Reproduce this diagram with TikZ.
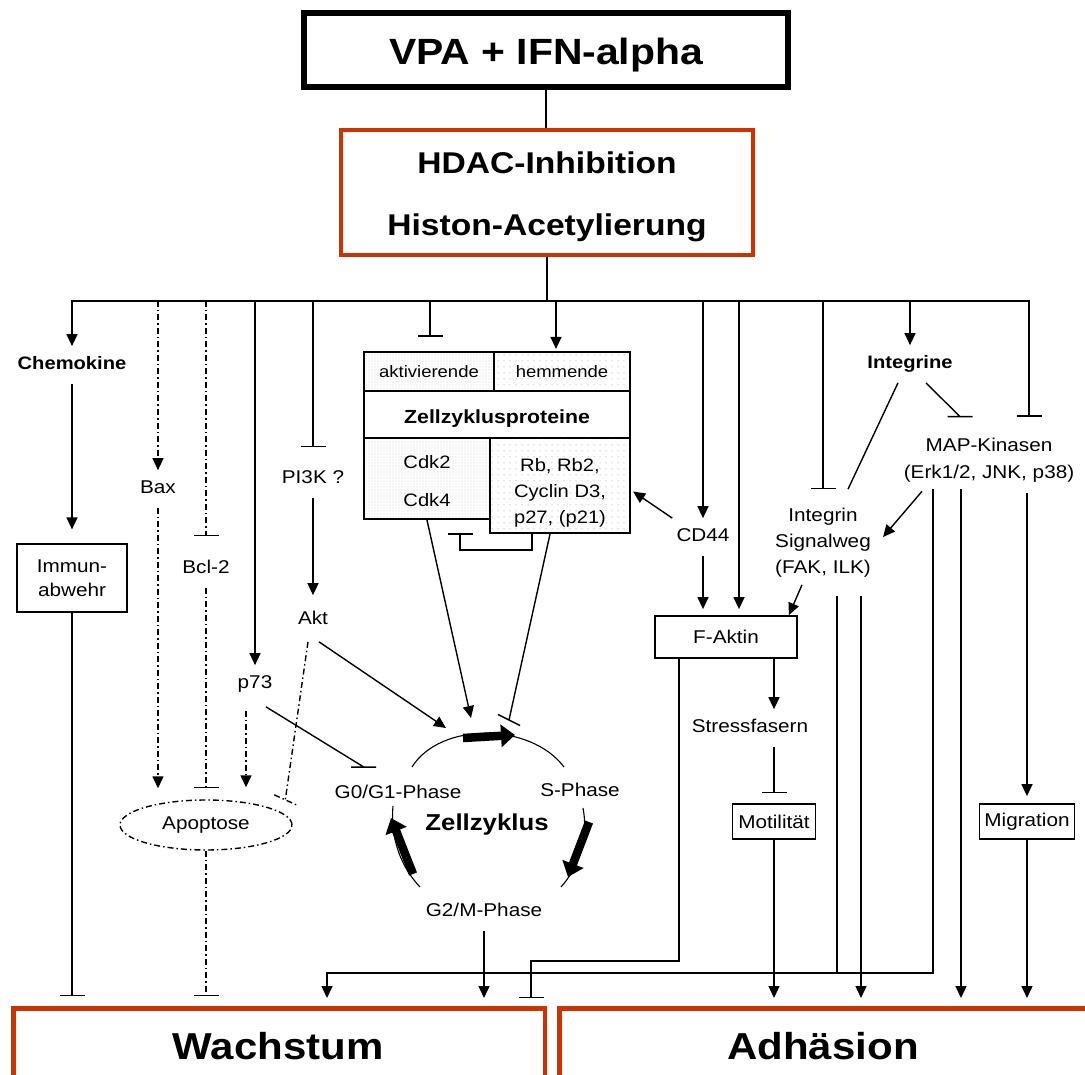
\documentclass[tikz,border=0pt]{standalone}
\usepackage{fontspec}
\setmainfont{Liberation Sans}[FakeStretch=1.12]
\usetikzlibrary{arrows.meta,shapes.geometric,patterns.meta}
\definecolor{hred}{RGB}{204,51,0}
\begin{document}
\begin{tikzpicture}[x=1pt,y=-1pt,
  con/.style={line width=1.4pt},
  arr/.style={con,-{Triangle[length=12pt,width=11pt]}},
  inh/.style={con,-{Bar[width=25pt]}},
  dd/.style={dash pattern=on 6pt off 3pt on 1.5pt off 3pt},
  lbl/.style={font=\fontsize{18.5}{22}\selectfont,inner xsep=4pt,inner ysep=10pt,text height=13.3pt,text depth=4pt},
  lblb/.style={lbl,font=\fontsize{18}{22}\selectfont\bfseries},
  ml/.style={align=center,inner sep=4pt},
  ptxt/.style={font=\fontsize{18}{22}\selectfont,inner sep=0pt},
  sbox/.style={draw,line width=1.8pt,inner sep=0pt,font=\fontsize{18.5}{22}\selectfont},
  cellA/.style={draw,line width=2.2pt,inner sep=0pt,pattern={Dots[distance=3pt,radius=0.45pt]},pattern color=black!45},
  cellB/.style={draw,line width=2.2pt,inner sep=0pt,pattern={Dots[distance=6pt,radius=0.5pt]},pattern color=black!45},
  cellW/.style={draw,line width=2.2pt,inner sep=0pt,fill=white},
  bigtxt/.style={font=\fontsize{37.5}{40}\selectfont\bfseries,inner sep=0pt},
  hdtxt/.style={font=\fontsize{30}{32}\selectfont\bfseries,inner sep=0pt},
  fatarr/.style={line width=8.5pt,-{Triangle[length=14pt,width=22pt]}},
  redbox/.style={draw=hred,line width=4.5pt,inner sep=0pt}
]
\fill[white] (0,0) rectangle (1085,1075);
\useasboundingbox (0,0) rectangle (1085,1075);

% ---------- top ----------
\node[draw,line width=6pt,minimum width=484pt,minimum height=74pt,inner sep=0pt] (vpa) at (546,50) {};
\node[font=\fontsize{36.5}{40}\selectfont\bfseries,inner sep=0pt] (vpat) at (546,55) {VPA + IFN-alpha};
\node[redbox,minimum width=412pt,minimum height=125pt] (hdac) at (547,192.5) {};
\node[hdtxt] (hdac1) at (547,163) {HDAC-Inhibition};
\node[hdtxt] (hdac2) at (547,228) {Histon-Acetylierung};
\draw[con] (vpa.south) -- (vpa.south |- hdac.north);

\coordinate (bL) at (72,301);
\coordinate (bR) at (1029,301);
\coordinate (b2) at (158,301);
\coordinate (b3) at (206,301);
\coordinate (b4) at (255,301);
\coordinate (b5) at (313,301);
\coordinate (b6) at (430,301);
\coordinate (b7) at (556,301);
\coordinate (b8) at (703,301);
\coordinate (b9) at (739,301);
\coordinate (b10) at (823,301);
\coordinate (b11) at (910,301);
\draw[con] (hdac.south) -- (hdac.south |- bL);
\draw[line width=2pt,line cap=rect] (bL) -- (bR);

% ---------- bottom boxes ----------
\node[redbox,minimum width=531.5pt,minimum height=100pt,anchor=north west] (wach) at (11,1006) {};
\node[redbox,minimum width=540pt,minimum height=100pt,anchor=north west] (adh) at (557,1006) {};
\node[bigtxt] (wacht) at (278,1046) {Wachstum};
\node[bigtxt] (adht) at (823,1046) {Adhäsion};

% ---------- left column ----------
\node[lblb] (chemo) at (72,365) {Chemokine};
\node[sbox,ml,minimum width=110.6pt,minimum height=68pt,font=\fontsize{18.5}{24.5}\selectfont] (immun) at (72,578.3) {Immun-\\abwehr};
\node[lbl] (bax) at (158,489) {Bax};
\node[lbl] (bcl) at (206,569) {Bcl-2};
\node[draw,dd,line width=1.4pt,ellipse,minimum width=172pt,minimum height=50pt,inner sep=0pt,font=\fontsize{18.5}{22}\selectfont] (apo) at (206,825) {Apoptose};
\node[lbl] (p73) at (255,684) {p73};
\node[lbl] (pi3k) at (313,479) {PI3K ?};
\node[lbl] (akt) at (313,620) {Akt};

\draw[arr] (bL) -- (chemo);
\draw[arr,shorten >=14pt] (chemo) -- (immun);
\draw[arr,dd] (b2) -- (bax);
\draw[arr,dd,shorten >=11pt] (bax) -- (bax |- apo.north);
\draw[inh,dd,shorten >=14pt] (b3) -- (bcl);
\draw[inh,dd,shorten >=11pt] (bcl) -- (apo);
\draw[arr] (b4) -- (p73);
\draw[inh,shorten >=13pt] (b5) -- (pi3k);
\draw[arr,shorten >=6pt] (pi3k) -- (akt);
\coordinate (p73d) at ([xshift=-9pt,yshift=-8pt]p73.south);
\draw[arr,dd,shorten >=12pt] (p73d) -- (p73d |- apo.north);
\coordinate (aT) at ([xshift=18pt,yshift=7pt]apo.north east);
\draw[con,dd] ([xshift=-5pt,yshift=-3pt]akt.south) -- (aT) (aT) ++(-11,-5) -- ++(22,10);
\draw[inh,shorten >=10pt] (immun) -- (immun |- wach.north);
\draw[inh,dd,shorten >=10pt] (apo) -- (apo |- wach.north);

% ---------- table of cell cycle proteins ----------
\node[cellA,minimum width=130pt,minimum height=39pt] (cakt) at (429,371.5) {};
\node[cellB,minimum width=136pt,minimum height=39pt] (chem) at (562,371.5) {};
\node[cellW,minimum width=266pt,minimum height=47pt] (czzp) at (497,414.5) {};
\node[cellA,minimum width=126pt,minimum height=81pt] (ccdk) at (427,478.5) {};
\node[cellB,minimum width=140pt,minimum height=95pt] (crb) at (560,485.5) {};
\node[font=\fontsize{16.5}{20}\selectfont,inner sep=0pt] (takt) at (429,372) {aktivierende};
\node[font=\fontsize{16.5}{20}\selectfont,inner sep=0pt] (them) at (562,372) {hemmende};
\node[font=\fontsize{19}{22}\selectfont\bfseries,inner sep=0pt] (tzzp) at (497,419) {Zellzyklusproteine};
\node[ptxt] (tcdk2) at (427,462) {Cdk2};
\node[ptxt] (tcdk4) at (427,500) {Cdk4};
\node[ptxt,align=center,font=\fontsize{18}{26}\selectfont] (trb) at (560,493) {Rb, Rb2,\\Cyclin D3,\\p27, (p21)};

\draw[inh,shorten >=14pt] (b6) -- (b6 |- cakt.north);
\draw[arr,shorten >=2pt] (b7) -- (b7 |- chem.north);
\draw[inh,shorten >=13pt] ([xshift=-28pt]crb.south) -- ++(0,16) -| ([xshift=33pt]ccdk.south);

% ---------- cell cycle ----------
\coordinate (cA) at (446,728);
\coordinate (cB) at (471,718);
\coordinate (cC) at (509,720);
\draw[line width=1.1pt] (412,767) .. controls (440,722) and (530,722) .. (564,767);
\draw[line width=1.1pt] (583,808) .. controls (589,840) and (578,868) .. (561,887);
\draw[line width=1.1pt] (420,887) .. controls (402,868) and (390,840) .. (393,806);
\draw[fatarr] (463,738) -- (515,735);
\draw[fatarr] (589,822) -- (568,877);
\draw[fatarr] (413,874) -- (391,818);
\node[lbl] (g01) at (398,794) {G0/G1-Phase};
\node[lbl] (sph) at (580,792) {S-Phase};
\node[font=\fontsize{23}{26}\selectfont\bfseries,inner sep=0pt] (zz) at (487,825) {Zellzyklus};
\node[lbl] (g2m) at (484,912) {G2/M-Phase};

\draw[arr] ([xshift=6pt,yshift=-3pt]akt.south) -- (cA);
\draw[arr] (ccdk.south) -- (cB);
\draw[con] ([xshift=-10pt]crb.south) -- (cC) (cC) ++(-11,-5.5) -- ++(22,11);
\coordinate (gT) at ([xshift=-34pt,yshift=8pt]g01.north);
\draw[con] ([xshift=11pt,yshift=-4pt]p73.south) -- (gT) (gT) ++(-13,0) -- ++(25,0);
\draw[arr,shorten >=8pt] (g2m) -- (g2m |- wach.north);

% ---------- right side ----------
\node[lbl] (cd44) at (703,537) {CD44};
\node[sbox,minimum width=142pt,minimum height=42pt] (faktin) at (726,637) {F-Aktin};
\node[lbl] (stress) at (750,728) {Stressfasern};
\node[sbox,minimum width=83pt,minimum height=35pt] (motil) at (774,821.5) {Motilität};
\node[sbox,minimum width=95pt,minimum height=35pt] (migr) at (1027,821.5) {Migration};
\node[lblb] (integrine) at (910,364) {Integrine};
\node[ml,font=\fontsize{18.5}{27}\selectfont] (map) at (989,460) {MAP-Kinasen\\(Erk1/2, JNK, p38)};
\node[ml,font=\fontsize{18.5}{26}\selectfont] (intsig) at (823,543) {Integrin\\Signalweg\\(FAK, ILK)};

\draw[arr] (b8) -- (cd44);
\draw[arr,shorten >=6pt] (cd44) -- (cd44 |- faktin.north);
\draw[arr,shorten >=6pt] (b9) -- (b9 |- faktin.north);
\draw[arr] (cd44.north west) -- ([xshift=2pt,yshift=-6pt]crb.east);
\draw[inh,shorten >=15pt] (b10) -- (intsig);
\draw[arr] (b11) -- (integrine);
\draw[inh,shorten >=17pt] (bR) -- (bR |- map.north);
\coordinate (mT) at ([xshift=-29pt,yshift=17pt]map.north);
\draw[con] ([xshift=16pt]integrine.south) -- (mT) (mT) ++(-12.5,0) -- ++(25,0);
\draw[con] ([xshift=-12pt]integrine.south) -- ([xshift=25pt,yshift=15pt]intsig.north);
\draw[arr] ([xshift=-67pt,yshift=-5pt]map.south) -- ([xshift=8pt,yshift=6pt]intsig.east);
\draw[arr] ([xshift=-21pt,yshift=-3pt]intsig.south) -- ([xshift=-9pt]faktin.north east);

\coordinate (fa1) at ([xshift=-47pt]faktin.south);
\coordinate (fa2) at ([xshift=48pt]faktin.south);
\coordinate (m1) at ([xshift=-56pt,yshift=-3pt]map.south);
\coordinate (m2) at ([xshift=-28pt,yshift=-3pt]map.south);
\coordinate (m3) at ([xshift=38pt,yshift=-7pt]map.south);
\coordinate (i1) at ([xshift=14pt,yshift=-14pt]intsig.south);
\coordinate (i2) at ([xshift=38pt,yshift=-14pt]intsig.south);
\coordinate (cM) at (327,973);
\coordinate (cW) at (531,961);

\draw[arr] (fa2) -- (fa2 |- stress.north);
\draw[inh,shorten >=10pt] (fa2 |- stress.south) -- (fa2 |- motil.north);
\draw[arr,shorten >=8pt] (motil) -- (motil |- adh.north);
\draw[arr,shorten >=7pt] (m3) -- (m3 |- migr.north);
\draw[arr,shorten >=8pt] (migr) -- (migr |- adh.north);
\draw[arr,shorten >=8pt] (m2) -- (m2 |- adh.north);
\draw[arr,shorten >=8pt] (i2) -- (i2 |- adh.north);
\draw[arr,shorten >=8pt] (m1) -- (m1 |- cM) -- (cM) -- (cM |- wach.north);
\draw[con] (i1) -- (i1 |- cM);
\draw[inh,shorten >=8pt] (fa1) -- (fa1 |- cW) -- (cW) -- (cW |- wach.north);
\end{tikzpicture}
\end{document}
